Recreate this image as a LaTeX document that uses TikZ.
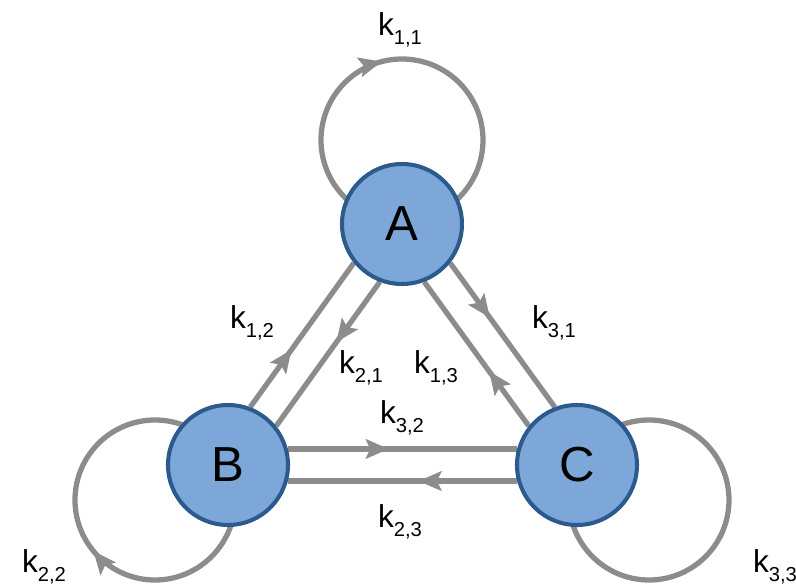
\documentclass[tikz,border=0pt]{standalone}
\usepackage{fontspec}
\setmainfont{Liberation Sans}
\usetikzlibrary{arrows.meta}
\usetikzlibrary{decorations.markings}
\usetikzlibrary{backgrounds}
\definecolor{statefill}{RGB}{125,167,216}
\definecolor{stateline}{RGB}{44,90,140}
\definecolor{rategray}{RGB}{140,140,140}
\newcommand{\klab}[1]{k\raisebox{-5pt}{\fontsize{11.5}{12}\selectfont #1}}

\begin{document}
\begin{tikzpicture}[
        state/.style={circle, draw=stateline, fill=statefill, line width=2.3pt, minimum size=2.4cm, inner sep=0pt, font=\fontsize{28}{30}\selectfont},
        rate/.style={draw=rategray, line width=3pt},
        fwd/.style={decoration={markings, mark=at position #1 with {\arrow{Stealth[length=13pt,width=11pt,inset=2.5pt]}}}, postaction={decorate}},
        bwd/.style={decoration={markings, mark=at position #1 with {\arrowreversed{Stealth[length=13pt,width=11pt,inset=2.5pt]}}}, postaction={decorate}},
        klabel/.style={inner sep=0pt, font=\fontsize{18}{20}\selectfont}
    ]
        \useasboundingbox (0,0) rectangle (15.92,-11.74);
        \node[state] (A) at (8.04,-4.48) {A};
        \node[state] (B) at (4.56,-9.30) {B};
        \node[state] (C) at (11.54,-9.30) {C};
        \coordinate (loopA) at ([yshift=1.68cm]A.center);
        \coordinate (loopB) at ([xshift=-1.46cm,yshift=-0.70cm]B.center);
        \coordinate (loopC) at ([xshift=1.44cm,yshift=-0.70cm]C.center);
        \begin{scope}[on background layer]
            % self loops
            \draw[rate, bwd=0.29] (loopA) circle (1.62cm);
            \draw[rate, bwd=0.61] (loopB) circle (1.60cm);
            \draw[rate] (loopC) circle (1.60cm);
            % A and B
            \draw[rate, fwd=0.40] (B.69) -- (A.219);
            \draw[rate, fwd=0.42] (A.249) -- (B.39);
            % A and C
            \draw[rate, fwd=0.38] (A.321) -- (C.111);
            \draw[rate, fwd=0.38] (C.141) -- (A.291);
            % B and C
            \draw[rate, fwd=0.44] (B.15) -- (C.165);
            \draw[rate, fwd=0.43] (C.195) -- (B.345);
        \end{scope}
        \node[klabel] (k11) at (8.00,-0.60) {\klab{1,1}};
        \node[klabel] (k12) at (5.04,-6.46) {\klab{1,2}};
        \node[klabel] (k21) at (7.22,-7.36) {\klab{2,1}};
        \node[klabel] (k13) at (8.72,-7.36) {\klab{1,3}};
        \node[klabel] (k31) at (11.08,-6.46) {\klab{3,1}};
        \node[klabel] (k32) at (8.04,-8.36) {\klab{3,2}};
        \node[klabel] (k23) at (8.00,-10.44) {\klab{2,3}};
        \node[klabel] (k22) at (0.88,-11.34) {\klab{2,2}};
        \node[klabel] (k33) at (15.50,-11.34) {\klab{3,3}};
    \end{tikzpicture}
\end{document}
